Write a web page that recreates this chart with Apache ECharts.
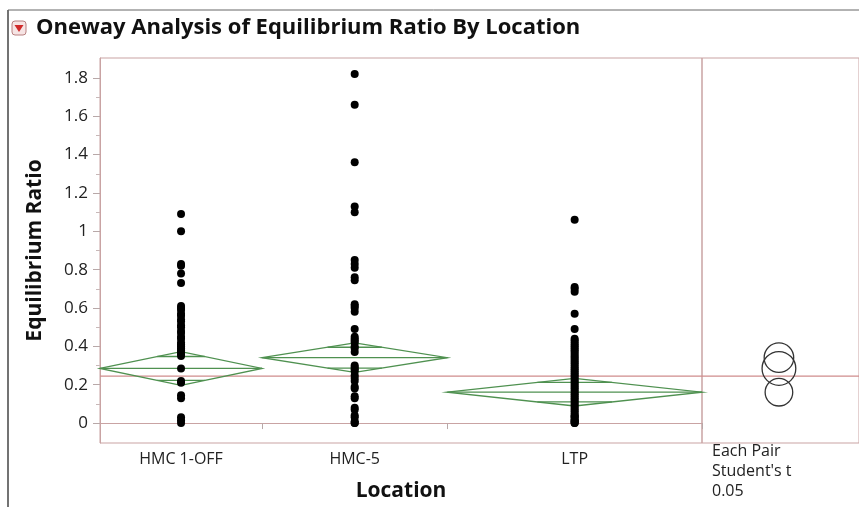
<!DOCTYPE html>
<html>
<head>
<meta charset="utf-8">
<script src="https://cdn.jsdelivr.net/npm/echarts@6/dist/echarts.min.js"></script>
<style>
  html, body { margin: 0; padding: 0; background: #fff; }
  #chart { width: 859px; height: 507px; }
</style>
</head>
<body>
<div id="chart"></div>
<script>
// groups and relative sample sizes (x widths are proportional to n)
const groups = ['HMC 1-OFF', 'HMC-5', 'LTP'];
const groupSizes = [35, 40, 55];

// equilibrium ratio values
const hmc1off = [1.09, 1.0, 0.83, 0.82, 0.78, 0.73, 0.61, 0.60, 0.59, 0.57, 0.56, 0.54, 0.53, 0.51,
  0.50, 0.48, 0.47, 0.45, 0.44, 0.42, 0.41, 0.40, 0.39, 0.38, 0.37, 0.36, 0.35, 0.285, 0.22, 0.21,
  0.145, 0.13, 0.03, 0.015, 0.0];
const hmc5 = [1.82, 1.66, 1.36, 1.13, 1.10, 0.85, 0.83, 0.81, 0.76, 0.745, 0.62, 0.61, 0.60, 0.58,
  0.49, 0.45, 0.44, 0.43, 0.42, 0.40, 0.39, 0.37, 0.30, 0.29, 0.28, 0.27, 0.25, 0.235, 0.22, 0.19,
  0.18, 0.14, 0.13, 0.08, 0.07, 0.04, 0.03, 0.01, 0.0, 0.0];
const ltp = [1.06, 0.71, 0.70, 0.685, 0.57, 0.49, 0.44, 0.43, 0.42, 0.41, 0.40, 0.39, 0.38, 0.37,
  0.36, 0.35, 0.34, 0.33, 0.32, 0.31, 0.30, 0.29, 0.28, 0.27, 0.26, 0.25, 0.24, 0.23, 0.22, 0.21,
  0.20, 0.19, 0.18, 0.17, 0.16, 0.15, 0.14, 0.13, 0.12, 0.11, 0.10, 0.09, 0.08, 0.07, 0.06, 0.05,
  0.04, 0.035, 0.03, 0.02, 0.015, 0.01, 0.005, 0.0, 0.0];

// means diamonds / comparison circles
const groupMeans = [0.285, 0.341, 0.161];
const ciHalf = [0.088, 0.077, 0.072];
const grandMean = 0.245;

const yTicks = [0, 0.2, 0.4, 0.6, 0.8, 1, 1.2, 1.4, 1.6, 1.8];
const yMinorTicks = [0.1, 0.3, 0.5, 0.7, 0.9, 1.1, 1.3, 1.5, 1.7];

const starts = [], ends = [], centers = [];
let acc = 0;
groupSizes.forEach(n => {
  starts.push(acc);
  ends.push(acc + n);
  centers.push(acc + n / 2);
  acc += n;
});
const xTotal = acc;

const pointData = [];
[hmc1off, hmc5, ltp].forEach((vals, i) => {
  vals.forEach(v => pointData.push([centers[i], v]));
});

const diamondData = groups.map((g, i) => [starts[i], ends[i], groupMeans[i], ciHalf[i]]);
// circles sit about half way across the visible part of the right panel
const circleData = groups.map((g, i) => [0.49, groupMeans[i], ciHalf[i]]);

const axisColor = '#c9a3a3';
const green = '#4f9150';
const font = '"Open Sans", "Noto Sans", sans-serif';

const chart = echarts.init(document.getElementById('chart'));

const option = {
  backgroundColor: '#fff',
  animation: false,
  grid: [
    { left: 100, top: 58, width: 602, height: 385, show: true, borderColor: axisColor, borderWidth: 1, containLabel: false },
    { left: 702, top: 58, width: 200, height: 385, show: true, borderColor: axisColor, borderWidth: 1, containLabel: false }
  ],
  xAxis: [
    {
      gridIndex: 0, type: 'value', min: 0, max: xTotal,
      splitLine: { show: false },
      axisLine: { show: true, lineStyle: { color: axisColor } },
      axisTick: { show: true, customValues: ends, length: 6, lineStyle: { color: '#b8a8a8' } },
      axisLabel: {
        show: true, customValues: centers, margin: 8,
        fontFamily: font, fontSize: 16, color: '#222',
        formatter: v => groups[centers.indexOf(v)]
      },
      name: 'Location', nameLocation: 'middle', nameGap: 38,
      nameTextStyle: { fontFamily: font, fontSize: 21, fontWeight: 'bold', color: '#111' }
    },
    {
      gridIndex: 1, type: 'value', min: 0, max: 1, show: false
    }
  ],
  yAxis: [
    {
      gridIndex: 0, type: 'value', min: -0.104, max: 1.904,
      splitLine: { show: false },
      axisLine: { show: true, lineStyle: { color: axisColor } },
      axisTick: { show: true, customValues: yTicks, length: 7, lineStyle: { color: '#b8a8a8' } },
      axisLabel: {
        customValues: yTicks, margin: 12,
        fontFamily: font, fontSize: 17, color: '#222',
        formatter: v => String(+v.toFixed(1))
      },
      name: 'Equilibrium Ratio', nameLocation: 'middle', nameGap: 54, nameRotate: 90,
      nameTextStyle: { fontFamily: font, fontSize: 21, fontWeight: 'bold', color: '#111' }
    },
    {
      gridIndex: 0, type: 'value', min: -0.104, max: 1.904, position: 'left', offset: 0,
      splitLine: { show: false },
      axisLine: { show: false },
      axisTick: { show: true, customValues: yMinorTicks, length: 4, lineStyle: { color: '#c8b8b8' } },
      axisLabel: { show: false }
    },
    {
      gridIndex: 1, type: 'value', min: -0.104, max: 1.904, show: false
    }
  ],
  graphic: [
    { type: 'line', shape: { x1: 8, y1: 10, x2: 8, y2: 507 }, style: { stroke: '#444', lineWidth: 1.5 } },
    { type: 'line', shape: { x1: 8, y1: 10, x2: 859, y2: 10 }, style: { stroke: '#666', lineWidth: 1 } },
    { type: 'rect', shape: { x: 12, y: 21, width: 14, height: 14, r: 3 }, style: { fill: '#f6e4e4', stroke: '#b88080', lineWidth: 1 } },
    { type: 'polygon', shape: { points: [[14.5, 25], [23.5, 25], [19, 32]] }, style: { fill: '#d02a2a' } },
    {
      type: 'text', left: 36, top: 17,
      style: { text: 'Oneway Analysis of Equilibrium Ratio By Location', fontFamily: font, fontSize: 22, fontWeight: 'bold', fill: '#111' }
    },
    {
      type: 'text', left: 712, top: 441,
      style: { text: "Each Pair\nStudent's t\n0.05", fontFamily: font, fontSize: 16, lineHeight: 20, fill: '#222' }
    }
  ],
  series: [
    {
      type: 'line', xAxisIndex: 0, yAxisIndex: 0, symbol: 'none', silent: true, z: 1,
      data: [[0, grandMean], [xTotal, grandMean]],
      lineStyle: { color: '#cf8c8c', width: 1.2 }
    },
    {
      type: 'line', xAxisIndex: 1, yAxisIndex: 2, symbol: 'none', silent: true, z: 1,
      data: [[0, grandMean], [1, grandMean]],
      lineStyle: { color: '#cf8c8c', width: 1.2 }
    },
    {
      type: 'custom', xAxisIndex: 0, yAxisIndex: 0, z: 2, silent: true,
      data: diamondData,
      renderItem: (params, api) => {
        const x0 = api.value(0), x1 = api.value(1), m = api.value(2), h = api.value(3);
        const xc = (x0 + x1) / 2;
        const L = api.coord([x0, m]), R = api.coord([x1, m]);
        const T = api.coord([xc, m + h]), B = api.coord([xc, m - h]);
        const k = 1 / Math.SQRT2;
        const w = (1 - k) * (x1 - x0) / 2;
        const oT1 = api.coord([xc - w, m + h * k]), oT2 = api.coord([xc + w, m + h * k]);
        const oB1 = api.coord([xc - w, m - h * k]), oB2 = api.coord([xc + w, m - h * k]);
        const st = { stroke: green, fill: null, lineWidth: 1.3 };
        return {
          type: 'group',
          children: [
            { type: 'polygon', shape: { points: [L, T, R, B] }, style: st },
            { type: 'line', shape: { x1: L[0], y1: L[1], x2: R[0], y2: R[1] }, style: st },
            { type: 'line', shape: { x1: oT1[0], y1: oT1[1], x2: oT2[0], y2: oT2[1] }, style: st },
            { type: 'line', shape: { x1: oB1[0], y1: oB1[1], x2: oB2[0], y2: oB2[1] }, style: st }
          ]
        };
      }
    },
    {
      type: 'scatter', xAxisIndex: 0, yAxisIndex: 0, z: 3, silent: true,
      data: pointData, symbolSize: 8,
      itemStyle: { color: '#000', opacity: 1 }
    },
    {
      type: 'custom', xAxisIndex: 1, yAxisIndex: 2, z: 3, silent: true,
      data: circleData,
      renderItem: (params, api) => {
        const c = api.coord([api.value(0), api.value(1)]);
        const r = api.size([0, api.value(2)])[1];
        return {
          type: 'circle',
          shape: { cx: c[0], cy: c[1], r: r },
          style: { stroke: '#333', fill: null, lineWidth: 1.3 }
        };
      }
    }
  ]
};

chart.setOption(option);
</script>
</body>
</html>
